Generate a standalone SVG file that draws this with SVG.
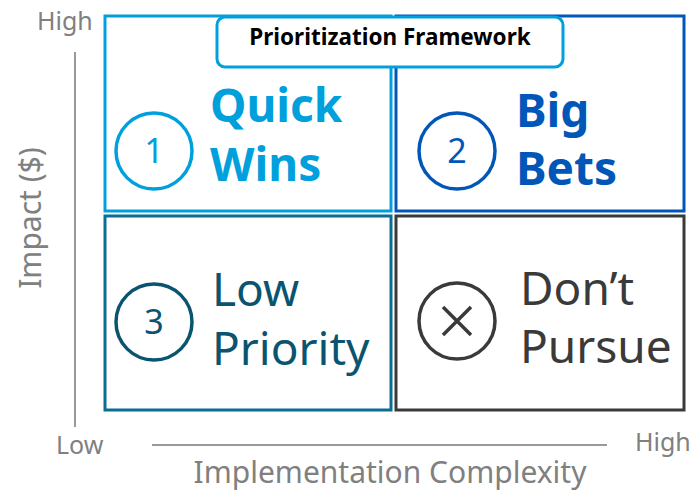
<svg xmlns="http://www.w3.org/2000/svg" width="700" height="493" viewBox="0 0 700 493">
<style>
text{font-family:"Noto Sans","Open Sans","Liberation Sans",sans-serif}
.q{fill:#fff;stroke-width:3}
.ax{stroke:#999;stroke-width:2}
.al{fill:#808080;font-size:25px}
.at{fill:#808080;font-size:30px}
.big{font-size:46px;font-weight:bold}
.reg{font-size:46px}
.num{font-size:34px;text-anchor:middle}
.c{fill:none;stroke-width:3.5}
</style>
<rect width="700" height="493" fill="#fff"/>
<g id="axes">
<line class="ax" x1="75" y1="52" x2="75" y2="427"/>
<line class="ax" x1="152" y1="445" x2="607" y2="445"/>
<text class="al" x="37" y="30">High</text>
<text class="al" x="56" y="454">Low</text>
<text class="al" x="635" y="451">High</text>
<text class="at" x="390" y="483" text-anchor="middle">Implementation Complexity</text>
<text class="at" transform="translate(41,218) rotate(-90)" text-anchor="middle">Impact ($)</text>
</g>
<g id="q1">
<rect class="q" x="105" y="16" width="286" height="195" stroke="#00a0dc"/>
<circle class="c" cx="154" cy="151" r="38" stroke="#00a0dc"/>
<text class="num" x="154" y="163" fill="#00a0dc">1</text>
<text class="big" x="210" y="122" fill="#00a0dc">Quick</text>
<text class="big" x="210" y="181" fill="#00a0dc">Wins</text>
</g>
<g id="q2">
<rect class="q" x="396" y="16" width="288" height="195" stroke="#0057b8"/>
<circle class="c" cx="457" cy="151" r="38" stroke="#0057b8"/>
<text class="num" x="457" y="163" fill="#0057b8">2</text>
<text class="big" x="516" y="127" fill="#0057b8">Big</text>
<text class="big" x="516" y="185" fill="#0057b8">Bets</text>
</g>
<g id="q3">
<rect class="q" x="105" y="216" width="286" height="194" stroke="#0a6e94"/>
<circle class="c" cx="154" cy="322" r="38" stroke="#0a5470"/>
<text class="num" x="154" y="334" fill="#0a5470">3</text>
<text class="reg" x="212" y="306" fill="#0a5470">Low</text>
<text class="reg" x="212" y="365" fill="#0a5470">Priority</text>
</g>
<g id="q4">
<rect class="q" x="396" y="216" width="288" height="194" stroke="#3a3a3a"/>
<circle class="c" cx="457" cy="321" r="38" stroke="#3a3a3a"/>
<path d="M443 307 L471 335 M471 307 L443 335" stroke="#3a3a3a" stroke-width="3.5"/>
<text class="reg" x="520" y="305" fill="#3a3a3a">Don’t</text>
<text class="reg" x="520" y="363" fill="#3a3a3a">Pursue</text>
</g>
<g id="title">
<rect x="217" y="17" width="346" height="50" rx="8" fill="#fff" stroke="#00a0dc" stroke-width="3"/>
<text x="390" y="45" text-anchor="middle" font-size="22.5" font-weight="bold" fill="#000">Prioritization Framework</text>
</g>
</svg>
